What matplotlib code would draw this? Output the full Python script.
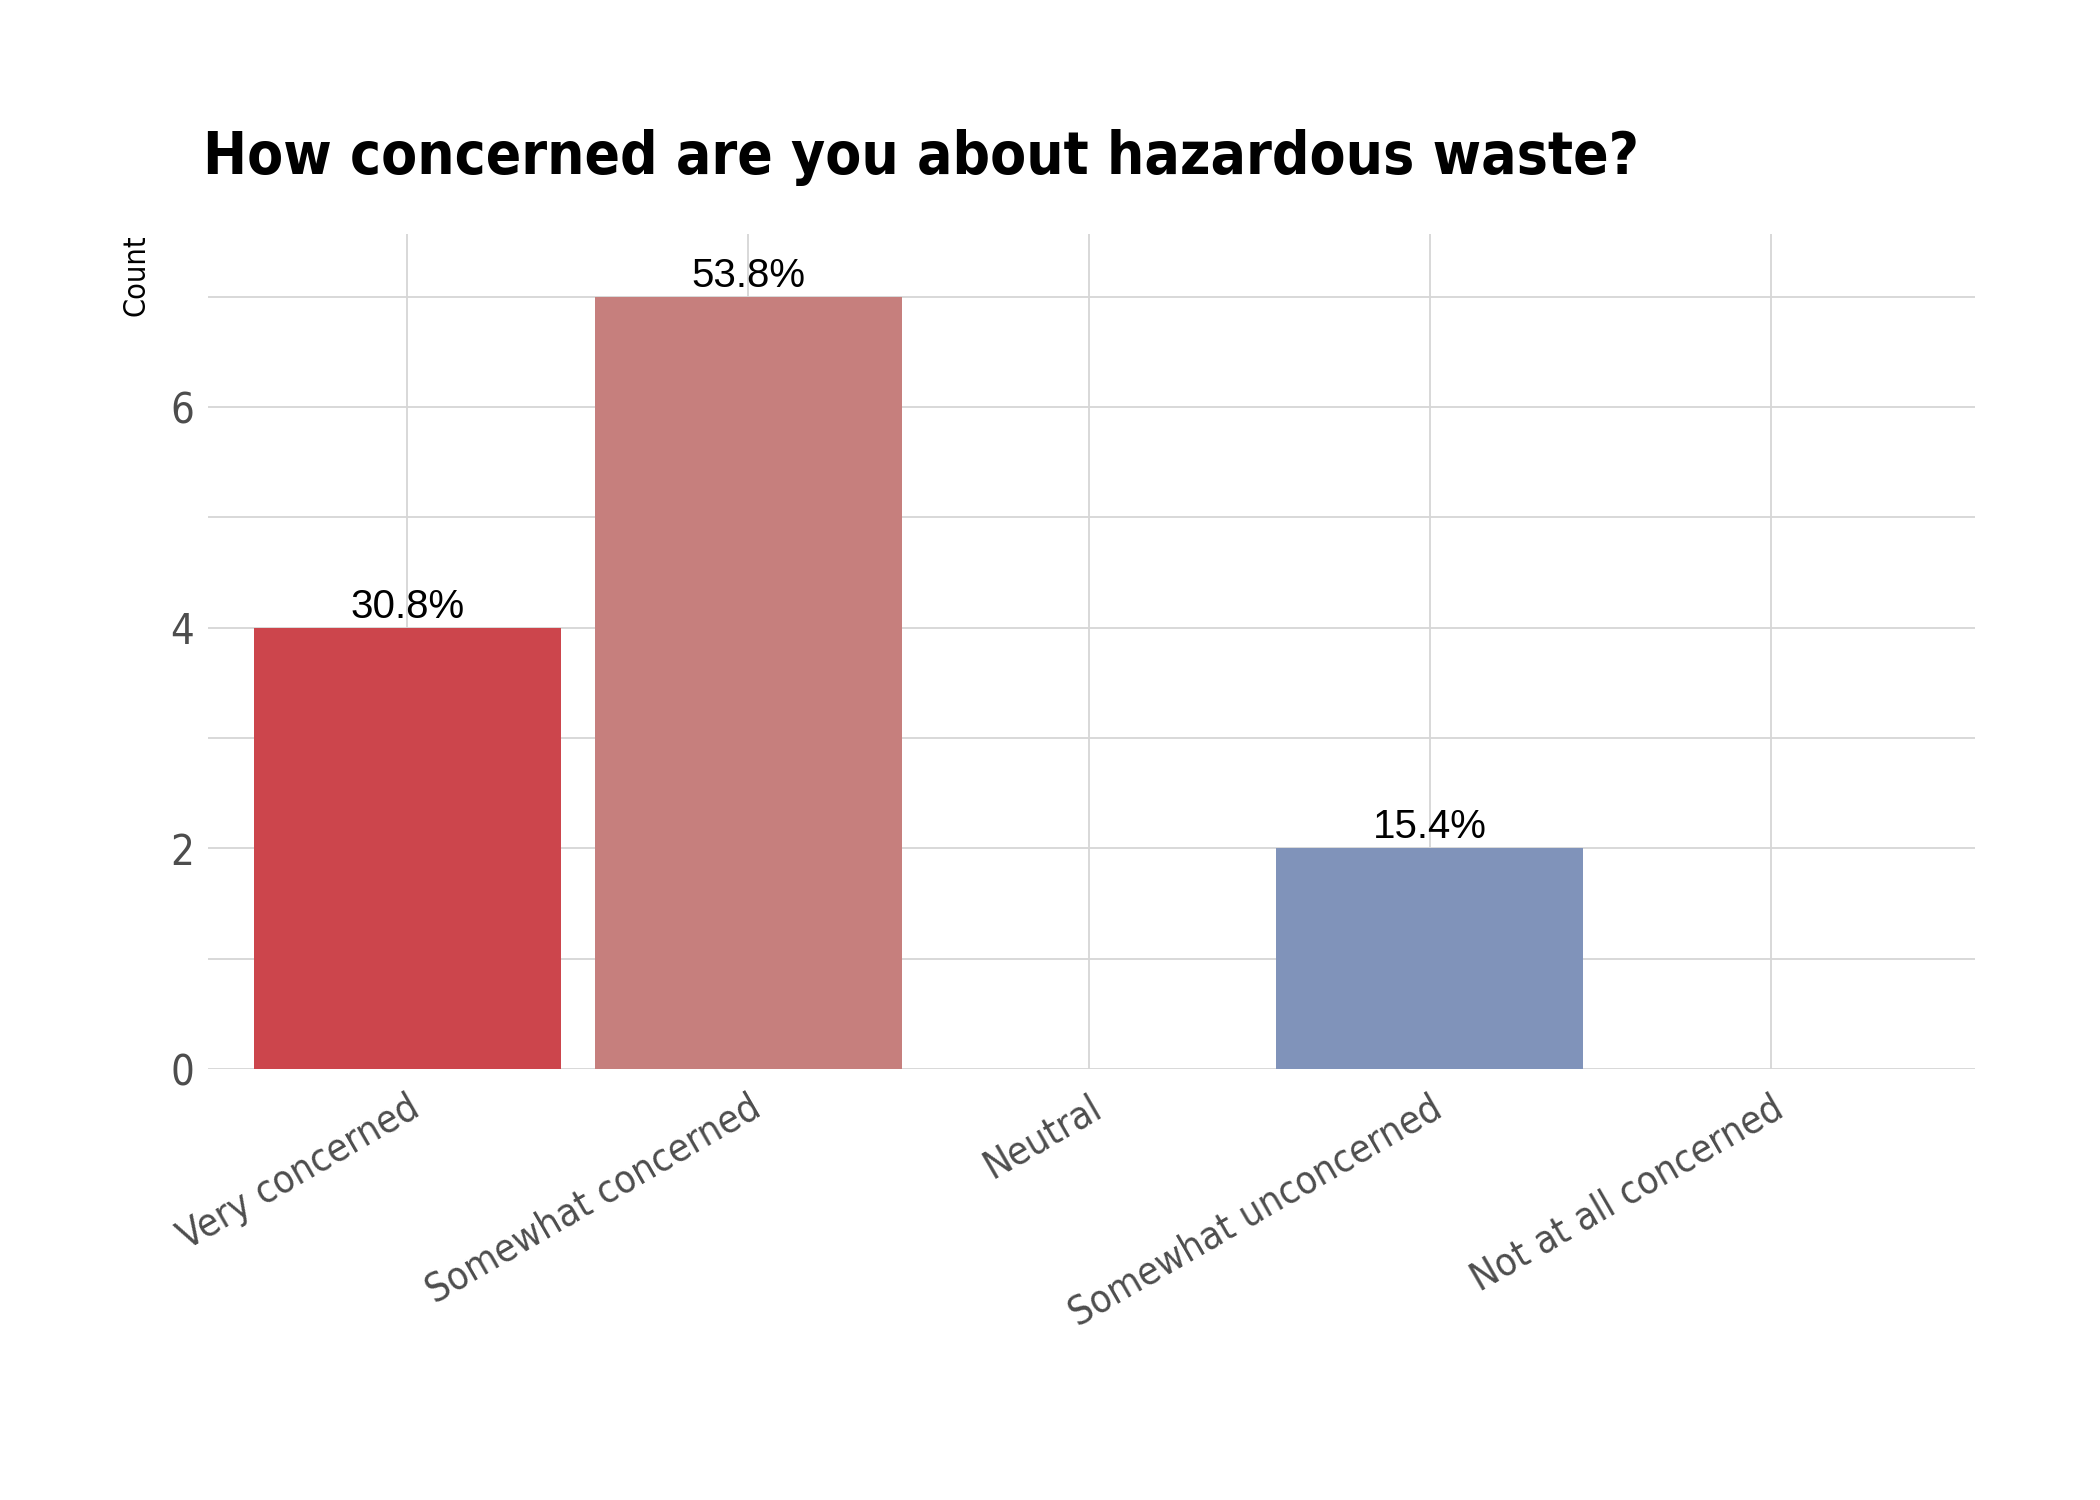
import matplotlib
matplotlib.use('Agg')
import matplotlib.pyplot as plt
from matplotlib.ticker import MultipleLocator
import numpy as np

# data
categories = ["Very concerned", "Somewhat concerned", "Neutral",
              "Somewhat unconcerned", "Not at all concerned"]
counts = [4, 7, 0, 2, 0]
pct_labels = ["30.8%", "53.8%", "", "15.4%", ""]
bar_colors = ["#CC454C", "#C67F7D", "#B0B0B0", "#8093BA", "#4A6FA5"]

# narrow look: DejaVu Sans Condensed
plt.rcParams['font.family'] = ['DejaVu Sans']
plt.rcParams['font.stretch'] = 'condensed'

fig = plt.figure(figsize=(21, 15), dpi=100)
ax = fig.add_axes([208/2100, 1 - 1069/1500, (1975-208)/2100, (1069-234)/1500])

x = np.arange(len(categories))
ax.bar(x, counts, width=0.9, color=bar_colors, zorder=3)

for xi, c, lab in zip(x, counts, pct_labels):
    if lab:
        ax.text(xi, c + 0.02, lab, ha='center', va='bottom', fontsize=29,
                color='black', family=['Liberation Sans', 'DejaVu Sans'],
                fontstretch='normal', zorder=4)

ax.set_xlim(-0.585, 4.6)
ax.set_ylim(0, 7.57)
ax.yaxis.set_major_locator(MultipleLocator(2))
ax.yaxis.set_minor_locator(MultipleLocator(1))
ax.grid(which='major', color='#D6D6D6', linewidth=1.3, zorder=0)
ax.grid(which='minor', axis='y', color='#D6D6D6', linewidth=1.3, zorder=0)
ax.set_axisbelow(True)
for sp in ax.spines.values():
    sp.set_visible(False)

ax.set_xticks(x)
ax.set_xticklabels(categories, rotation=30, ha='right', rotation_mode='anchor',
                   fontsize=28, color='#4D4D4D')
ax.tick_params(axis='both', which='both', length=0)
ax.tick_params(axis='x', pad=14)
ax.tick_params(axis='y', labelsize=30, labelcolor='#4D4D4D', pad=10)

ax.set_ylabel('Count', loc='top', fontsize=22, color='black', labelpad=14)

fig.text(203/2100, 1 - 158/1500, 'How concerned are you about hazardous waste?',
         fontsize=42, fontweight='bold', color='black', ha='left', va='center')

fig.savefig('out.png', dpi=100, facecolor='white')
plt.close()
